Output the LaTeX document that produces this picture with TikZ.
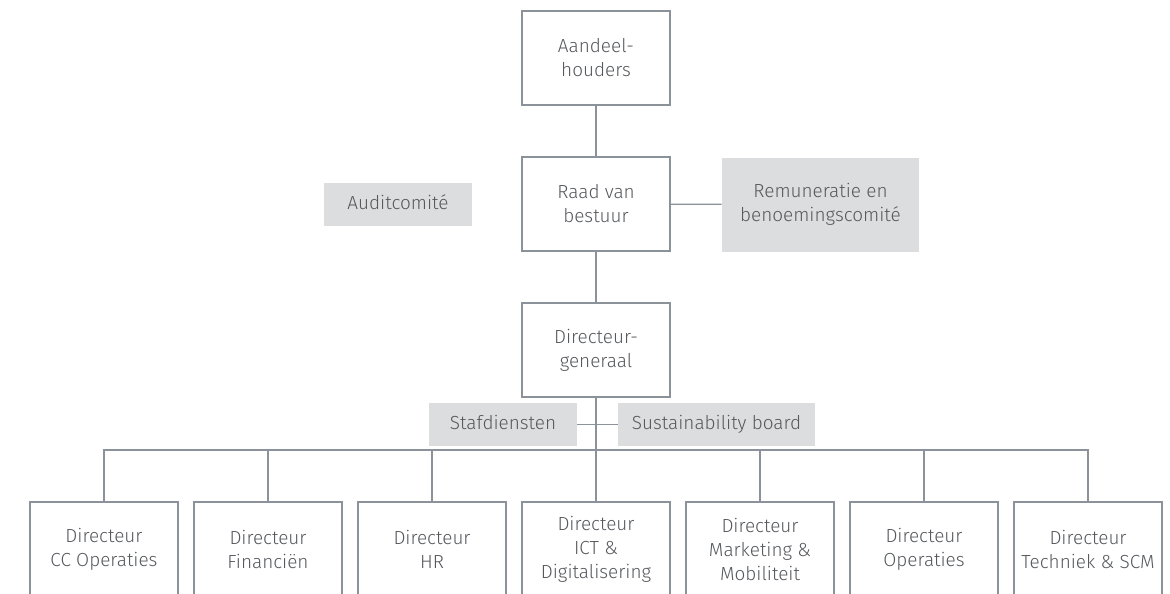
\documentclass[tikz,border=0pt]{standalone}
\usepackage{fontspec}
\setmainfont{Fira Sans Light}
\definecolor{lijn}{HTML}{8C9299}
\definecolor{vlak}{HTML}{DCDDDF}
\definecolor{tekst}{HTML}{55585C}
\begin{document}
\begin{tikzpicture}[x=0.75pt,y=-0.75pt,
    every node/.style={align=center,text=tekst,font=\fontsize{14.2}{18}\selectfont,inner sep=2pt},
    kader/.style={draw=lijn,line width=0.9pt,fill=white,minimum width=111pt,minimum height=70.5pt},
    comite/.style={fill=vlak,minimum width=111pt,minimum height=32pt},
    enkel/.style={text height=10.5pt,text depth=3.5pt},
    lijnen/.style={draw=lijn,line width=0.9pt}]

            \useasboundingbox (0,0) rectangle (1170,593);

            \node[kader] (aandeel) at (596,58)   {Aandeel-\\houders};
            \node[kader] (raad)    at (596,204)  {Raad van\\bestuur};
            \node[kader] (dg)      at (596,350)  {Directeur-\\generaal};

            \node[comite,enkel] (audit) at (398,204.5) {Auditcomité};
            \node[comite,minimum width=148pt,minimum height=70.5pt] (remun) at (820.5,204.5) {Remuneratie en\\benoemingscomité};
            \node[comite,enkel] (staf)  at (503,424.5) {Stafdiensten};
            \node[comite,enkel,minimum width=148pt] (sust) at (716.5,424.5) {Sustainability board};

            \node[kader] (dir1) at (104,549)  {Directeur\\CC Operaties};
            \node[kader] (dir2) at (268,549)  {Directeur\\Financiën};
            \node[kader] (dir3) at (432,549)  {Directeur\\HR};
            \node[kader] (dir4) at (596,549)  {Directeur\\ICT \&\\Digitalisering};
            \node[kader] (dir5) at (760,549)  {Directeur\\Marketing \&\\Mobiliteit};
            \node[kader] (dir6) at (924,549)  {Directeur\\Operaties};
            \node[kader] (dir7) at (1088,549) {Directeur\\Techniek \& SCM};

            \coordinate (bus) at (596,450);

            \draw[lijnen] (aandeel) -- (raad);
            \draw[lijnen] (raad) -- (dg);
            \draw[lijnen] (raad) -- (remun);
            \draw[lijnen] (dg) -- (dir4);
            \draw[lijnen] (staf) -- (sust);
            \foreach \i in {1,2,3,5,6,7}
                \draw[lijnen] (dir\i.north) |- (bus);

        \end{tikzpicture}
\end{document}
